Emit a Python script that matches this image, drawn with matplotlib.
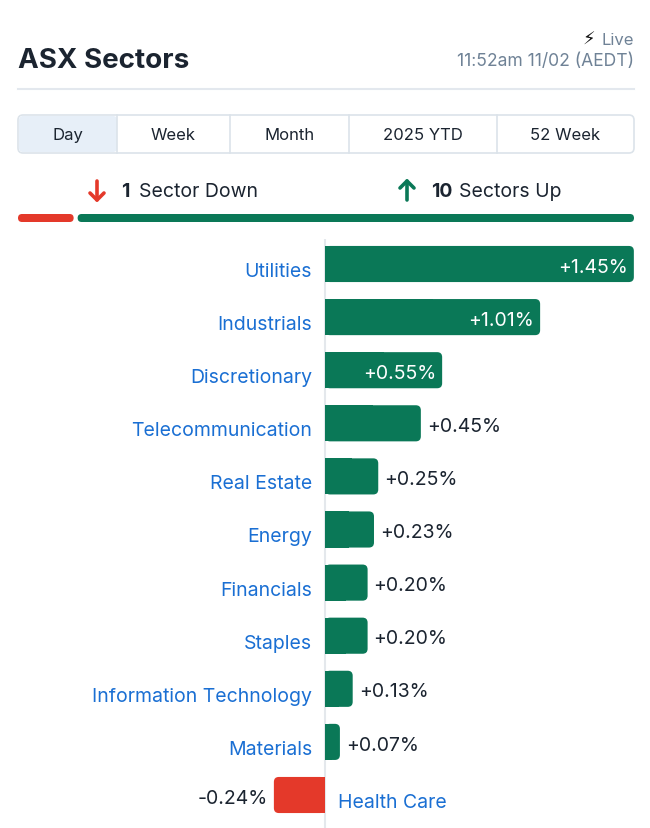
import matplotlib
matplotlib.use("Agg")
import matplotlib.pyplot as plt
from matplotlib.patches import FancyBboxPatch, Rectangle

plt.rcParams["font.family"] = ["Inter", "DejaVu Sans"]

# ---------- data ----------
sectors = ["Utilities", "Industrials", "Discretionary", "Telecommunication",
           "Real Estate", "Energy", "Financials", "Staples",
           "Information Technology", "Materials", "Health Care"]
changes = [1.45, 1.01, 0.55, 0.45, 0.25, 0.23, 0.20, 0.20, 0.13, 0.07, -0.24]
tabs = ["Day", "Week", "Month", "2025 YTD", "52 Week"]
title = "ASX Sectors"
stamp = "11:52am 11/02 (AEDT)"

GREEN = "#0a7857"
RED = "#e4392a"
BLUE = "#1a6fd3"
DARK = "#1b2430"
GREY = "#6f8296"

W, H = 650, 829
fig = plt.figure(figsize=(W / 100, H / 100), dpi=100)
fig.patch.set_facecolor("white")

# ---------- header (pixel coords) ----------
bg = fig.add_axes([0, 0, 1, 1])
bg.set_xlim(0, W)
bg.set_ylim(H, 0)
bg.axis("off")

bg.text(18, 61, title, fontsize=20, fontweight="bold", color=DARK, va="center")
bg.text(595, 40, "\u26a1", fontsize=13, color="#111111", ha="right", va="center",
        family=["DejaVu Sans"])
bg.text(634, 40, "Live", fontsize=12, color=GREY, ha="right", va="center")
bg.text(634, 61, stamp, fontsize=12.6, color=GREY, ha="right", va="center")
bg.plot([18, 634], [90, 90], color="#e3e8ee", lw=1.5)

# tab strip
edges = [18, 117, 230, 349, 497, 634]
bg.add_patch(FancyBboxPatch((18, 116), 616, 38, boxstyle="round,pad=0,rounding_size=5",
                            fc="white", ec="#dce3ea", lw=1.2, zorder=1))
bg.add_patch(FancyBboxPatch((19, 117), 98, 36, boxstyle="round,pad=0,rounding_size=4",
                            fc="#e7eff8", ec="none", zorder=1.5))
for x in edges[1:-1]:
    bg.plot([x, x], [116, 154], color="#dce3ea", lw=1.2, zorder=2)
for i, t in enumerate(tabs):
    bg.text((edges[i] + edges[i + 1]) / 2, 135, t, fontsize=12, color=DARK,
            ha="center", va="center", zorder=3)

# up / down summary
n_down = sum(1 for v in changes if v < 0)
n_up = sum(1 for v in changes if v > 0)


def arrow(xc, up, color):
    top, bot = 182, 201
    tip = top if up else bot
    d = 7 if up else -7
    bg.plot([xc, xc], [top, bot], color=color, lw=2.6, solid_capstyle="round")
    bg.plot([xc - 7, xc, xc + 7], [tip + d, tip, tip + d], color=color, lw=2.6,
            solid_capstyle="round", solid_joinstyle="round")


arrow(97, False, RED)
bg.text(121, 192, f"{n_down}", fontsize=14, fontweight="bold", color=DARK, va="center")
bg.text(139, 192, "Sector Down", fontsize=14, color=DARK, va="center")
arrow(407, True, GREEN)
bg.text(431, 192, f"{n_up}", fontsize=14, fontweight="bold", color=DARK, va="center")
bg.text(459, 192, "Sectors Up", fontsize=14, color=DARK, va="center")

total = 616 - 4
split = 18 + total * n_down / (n_down + n_up)
bg.add_patch(FancyBboxPatch((18, 215), split - 18, 8, boxstyle="round,pad=0,rounding_size=4",
                            fc=RED, ec="none"))
bg.add_patch(FancyBboxPatch((split + 4, 215), 634 - split - 4, 8,
                            boxstyle="round,pad=0,rounding_size=4", fc=GREEN, ec="none"))

# ---------- bar chart ----------
ax = fig.add_axes([0, 0, 1, (829 - 240) / H])
px_per_unit = 213.0
ax.set_xlim(-325 / px_per_unit, 325 / px_per_unit)
row = 53.1
ax.set_ylim((829 - 265) / row, (240 - 265) / row)
ax.axis("off")

ax.axvline(0, color="#e4e8ec", lw=1.5, zorder=0)
ys = list(range(len(sectors)))
bars = ax.barh(ys, changes, height=0.68, color="none")
r = 5 / px_per_unit
aspect = px_per_unit / row
for b, v in zip(bars, changes):
    x0, y0, w, h = b.get_x(), b.get_y(), b.get_width(), b.get_height()
    c = GREEN if v > 0 else RED
    left, width = min(x0, x0 + w), abs(w)
    ax.add_patch(FancyBboxPatch((left, y0), width, h, boxstyle=f"round,pad=0,rounding_size={r}",
                                mutation_aspect=aspect, fc=c, ec="none", zorder=2))
    # square off the side touching zero
    sq_left = left if v > 0 else left + width / 2
    ax.add_patch(Rectangle((sq_left, y0), width / 2, h, fc=c, ec="none", zorder=2))

off = 6 / px_per_unit
for y, name, v in zip(ys, sectors, changes):
    lab = f"{v:+.2f}%"
    yv = y + 0.05
    if v >= 0:
        ax.text(-13 / px_per_unit, y + 0.13, name, ha="right", va="center",
                fontsize=14, color=BLUE)
        if v >= 0.5:
            ax.text(v - off, yv, lab, ha="right", va="center", fontsize=14, color="white", zorder=3)
        else:
            ax.text(v + off, yv, lab, ha="left", va="center", fontsize=14, color=DARK, zorder=3)
    else:
        ax.text(13 / px_per_unit, y + 0.13, name, ha="left", va="center",
                fontsize=14, color=BLUE)
        ax.text(v - off, yv, lab, ha="right", va="center", fontsize=14, color=DARK)

fig.savefig("out.png", dpi=100, facecolor="white")
